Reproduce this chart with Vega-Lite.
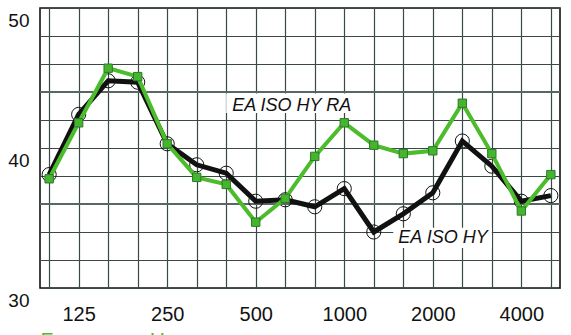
{
  "$schema": "https://vega.github.io/schema/vega-lite/v6.json",
  "width": 520,
  "height": 280,
  "autosize": "none",
  "padding": {"left": 40, "top": 8, "right": 11, "bottom": 47},
  "background": "white",
  "config": {
    "font": "Liberation Sans",
    "view": {"stroke": "#111111", "strokeWidth": 1.6},
    "axisX": {
      "grid": true, "gridColor": "#3a4848", "gridWidth": 1.2, "gridOpacity": 1,
      "ticks": false, "domain": false, "labelFontSize": 20, "labelColor": "#111111",
      "labelPadding": 16, "labelOverlap": false, "labelAngle": 0,
      "labelExpr": "indexof([125,250,500,1000,2000,4000], datum.value) >= 0 ? datum.label : ''",
      "titleColor": "#4cbb2c", "titleFontSize": 21, "titleFontWeight": "normal",
      "titleAnchor": "start", "titleAlign": "left", "titlePadding": 5
    },
    "axisY": {
      "grid": true, "gridColor": "#3a4848", "gridWidth": 1.2, "gridOpacity": 1,
      "ticks": false, "domain": false, "labelFontSize": 19, "labelColor": "#111111",
      "labelPadding": 11, "labelBaseline": "top", "labelOffset": 3,
      "values": [30, 32, 34, 36, 38, 40, 42, 44, 46, 48, 50],
      "labelExpr": "datum.value % 10 == 0 ? datum.label : ''"
    }
  },
  "data": {
    "values": [
      {"f": 100, "k": 38.1, "g": 37.8},
      {"f": 125, "k": 42.4, "g": 41.8},
      {"f": 160, "k": 44.8, "g": 45.7},
      {"f": 200, "k": 44.7, "g": 45.1},
      {"f": 250, "k": 40.3, "g": 40.3},
      {"f": 315, "k": 38.8, "g": 37.9},
      {"f": 400, "k": 38.2, "g": 37.4},
      {"f": 500, "k": 36.2, "g": 34.7},
      {"f": 630, "k": 36.3, "g": 36.4},
      {"f": 800, "k": 35.8, "g": 39.4},
      {"f": 1000, "k": 37.1, "g": 41.8},
      {"f": 1250, "k": 34.0, "g": 40.2},
      {"f": 1600, "k": 35.3, "g": 39.6},
      {"f": 2000, "k": 36.8, "g": 39.8},
      {"f": 2500, "k": 40.5, "g": 43.2},
      {"f": 3150, "k": 38.7, "g": 39.6},
      {"f": 4000, "k": 36.2, "g": 35.5},
      {"f": 5000, "k": 36.6, "g": 38.1}
    ]
  },
  "layer": [
    {
      "data": {"values": [{}]},
      "mark": {"type": "rule", "color": "#586666", "strokeWidth": 2},
      "encoding": {"y": {"datum": 36, "type": "quantitative", "axis": {"title": null}}}
    },
    {
      "data": {"values": [{}]},
      "mark": {"type": "rule", "color": "#586666", "strokeWidth": 2},
      "encoding": {"y": {"datum": 44, "type": "quantitative", "axis": {"title": null}}}
    },
    {
      "mark": {"type": "line", "color": "#111111", "strokeWidth": 5},
      "encoding": {
        "x": {"field": "f", "type": "ordinal", "scale": {"type": "point", "padding": 0.31}, "axis": {"title": "Frequency, Hz"}},
        "y": {"field": "k", "type": "quantitative", "scale": {"domain": [30, 50], "nice": false, "zero": false}, "axis": {"title": null}}
      }
    },
    {
      "mark": {"type": "point", "shape": "circle", "filled": false, "color": "#111111", "strokeWidth": 1, "size": 200, "opacity": 1},
      "encoding": {
        "x": {"field": "f", "type": "ordinal", "axis": {"title": "Frequency, Hz"}},
        "y": {"field": "k", "type": "quantitative", "axis": {"title": null}}
      }
    },
    {
      "mark": {"type": "line", "color": "#4cbb2c", "strokeWidth": 4},
      "encoding": {
        "x": {"field": "f", "type": "ordinal", "axis": {"title": "Frequency, Hz"}},
        "y": {"field": "g", "type": "quantitative", "axis": {"title": null}}
      }
    },
    {
      "mark": {"type": "point", "shape": "square", "filled": true, "fill": "#44b52c", "stroke": "#2c7a2c", "strokeWidth": 1, "size": 70, "opacity": 1},
      "encoding": {
        "x": {"field": "f", "type": "ordinal", "axis": {"title": "Frequency, Hz"}},
        "y": {"field": "g", "type": "quantitative", "axis": {"title": null}}
      }
    },
    {
      "data": {"values": [{}]},
      "mark": {"type": "rect", "color": "white", "x2Offset": -17},
      "encoding": {
        "x": {"datum": 400, "type": "ordinal", "axis": {"title": "Frequency, Hz"}},
        "x2": {"datum": 1250},
        "y": {"datum": 43.9, "type": "quantitative", "axis": {"title": null}},
        "y2": {"datum": 42.5}
      }
    },
    {
      "data": {"values": [{}]},
      "mark": {"type": "rect", "color": "white", "xOffset": -10},
      "encoding": {
        "x": {"datum": 1600, "type": "ordinal", "axis": {"title": "Frequency, Hz"}},
        "x2": {"datum": 3150},
        "y": {"datum": 34.3, "type": "quantitative", "axis": {"title": null}},
        "y2": {"datum": 32.85}
      }
    },
    {
      "data": {"values": [{}]},
      "mark": {"type": "text", "text": "EA ISO HY RA", "fontSize": 18, "fontStyle": "italic", "align": "left", "baseline": "alphabetic", "dx": 6, "color": "#111111"},
      "encoding": {
        "x": {"datum": 400, "type": "ordinal", "axis": {"title": "Frequency, Hz"}},
        "y": {"datum": 42.66, "type": "quantitative", "axis": {"title": null}}
      }
    },
    {
      "data": {"values": [{}]},
      "mark": {"type": "text", "text": "EA ISO HY", "fontSize": 18, "fontStyle": "italic", "align": "left", "baseline": "alphabetic", "dx": -5, "color": "#111111"},
      "encoding": {
        "x": {"datum": 1600, "type": "ordinal", "axis": {"title": "Frequency, Hz"}},
        "y": {"datum": 33.21, "type": "quantitative", "axis": {"title": null}}
      }
    }
  ]
}
